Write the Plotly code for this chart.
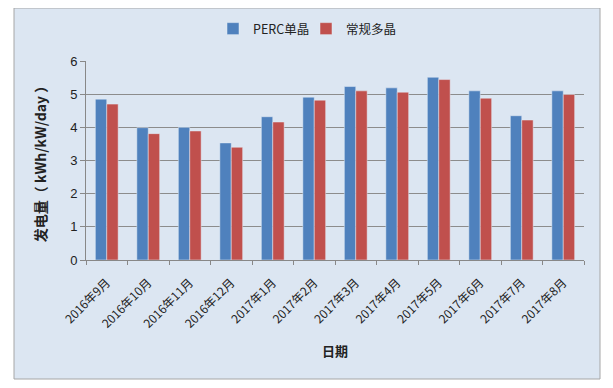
import plotly.graph_objects as go

categories = ["2016年9月", "2016年10月", "2016年11月", "2016年12月", "2017年1月", "2017年2月",
              "2017年3月", "2017年4月", "2017年5月", "2017年6月", "2017年7月", "2017年8月"]
perc_mono = [4.85, 3.99, 4.00, 3.53, 4.32, 4.91, 5.23, 5.19, 5.51, 5.10, 4.35, 5.10]
conv_multi = [4.70, 3.81, 3.89, 3.40, 4.16, 4.82, 5.10, 5.06, 5.44, 4.88, 4.22, 4.99]
series_names = ["PERC单晶", "常规多晶"]
y_ticks = [0, 1, 2, 3, 4, 5, 6]

FONT = "Noto Sans CJK SC"

fig = go.Figure()
fig.add_trace(go.Bar(x=categories, y=perc_mono, name=series_names[0], marker_color="#4F81BD"))
fig.add_trace(go.Bar(x=categories, y=conv_multi, name=series_names[1], marker_color="#C0504D"))

OFF = 8  # body margin of the page
W, H = 613 - 2 * OFF, 388 - 2 * OFF
# plot area in page pixels: x 86..584, y 61..260
PL, PR, PT, PB = 86, 584, 61, 260
L, T = PL - OFF, PT - OFF
R = W - (PR - OFF)
B = H - (PB - OFF)
pw, ph = PR - PL, PB - PT

def px_x(x):
    return (x - PL) / pw

def px_y(y):
    return (PB - y) / ph

fig.add_shape(type="rect", xref="paper", yref="paper",
              x0=px_x(14), x1=px_x(600), y0=px_y(379), y1=px_y(8),
              fillcolor="#DCE6F2", line=dict(color="#A6A6A6", width=1), layer="below")

fig.update_layout(
    width=W, height=H,
    margin=dict(l=L, r=R, t=T, b=B, autoexpand=False),
    paper_bgcolor="white",
    plot_bgcolor="#F2F2F2",
    barmode="group",
    bargap=0.45,
    bargroupgap=0,
    font=dict(family=FONT, size=12, color="#222222"),
    legend=dict(orientation="h", x=px_x(306), xanchor="center", y=px_y(29), yanchor="middle",
                font=dict(size=12.5, family=FONT), bgcolor="rgba(0,0,0,0)",
                itemwidth=30, traceorder="normal", entrywidth=48, entrywidthmode="pixels"),
    showlegend=True,
)
fig.update_xaxes(
    tickangle=-45, tickfont=dict(size=12, family=FONT, color="#222"),
    showline=True, linecolor="#888888", linewidth=1,
    ticks="outside", ticklen=4, tickcolor="#888888", tickson="boundaries",
    ticklabelstandoff=10,
    title=dict(text="<b>日期</b>", font=dict(size=13, family=FONT), standoff=16),
)
fig.update_yaxes(
    range=[0, 6], tickvals=y_ticks, tickfont=dict(size=13, family="Liberation Sans", color="#222"),
    showgrid=True, gridcolor="#8C8C8C", gridwidth=1,
    showline=True, linecolor="#888888", linewidth=1,
    ticks="outside", ticklen=5, tickcolor="#888888", zeroline=False,
    title=dict(text="<b>发电量（ kWh/kW/day ）</b>", font=dict(size=14, family=FONT), standoff=20),
)

fig.write_html("out.html")
